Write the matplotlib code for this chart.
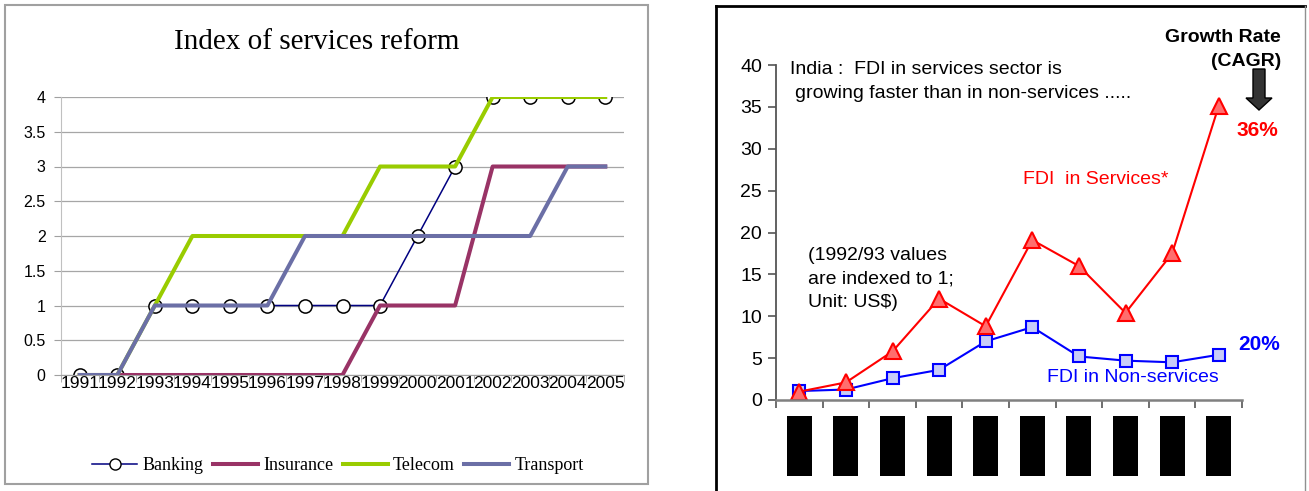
import matplotlib

matplotlib.use("Agg")

import matplotlib.pyplot as plt
from matplotlib.lines import Line2D
from matplotlib.patches import Rectangle, FancyArrow
from matplotlib.transforms import IdentityTransform

W, H = 1309, 491

# left chart: index of services reform
years = ["1991", "1992", "1993", "1994", "1995", "1996", "1997", "1998",
         "1999", "2000", "2001", "2002", "2003", "2004", "2005"]
banking = [0, 0, 1, 1, 1, 1, 1, 1, 1, 2, 3, 4, 4, 4, 4]
insurance = [0, 0, 0, 0, 0, 0, 0, 0, 1, 1, 1, 3, 3, 3, 3]
telecom = [0, 0, 1, 2, 2, 2, 2, 2, 3, 3, 3, 4, 4, 4, 4]
transport = [0, 0, 1, 1, 1, 1, 2, 2, 2, 2, 2, 2, 2, 3, 3]
reform_yticks = [0, 0.5, 1, 1.5, 2, 2.5, 3, 3.5, 4]

# right chart: FDI indexed to 1992/93
fdi_services = [1.0, 2.1, 5.8, 12.1, 8.8, 19.1, 16.0, 10.4, 17.5, 35.1]
fdi_non_services = [1.07, 1.25, 2.6, 3.6, 7.0, 8.7, 5.2, 4.7, 4.5, 5.4]
fdi_yticks = [0, 5, 10, 15, 20, 25, 30, 35, 40]
hidden_label_blocks = [1, 1, 1, 1, 1, 1, 1, 1, 1, 1]


def fx(x):
    return x / W


def fy(y):
    return 1 - y / H


fig = plt.figure(figsize=(W / 100, H / 100), dpi=100)
fig.patch.set_facecolor("white")

# ---- left panel ----
fig.patches.append(Rectangle((fx(5), fy(484)), fx(643), 479 / H, transform=fig.transFigure,
                             fill=False, edgecolor="#A0A0A0", linewidth=1.5))

ax1 = fig.add_axes([fx(61), fy(375), fx(563), 278 / H])
x1 = list(range(len(years)))
ax1.plot(x1, banking, color="#000080", linewidth=1.1, marker="o", markersize=9.5,
         markerfacecolor="white", markeredgecolor="black", markeredgewidth=1.1, zorder=2)
ax1.plot(x1, insurance, color="#993366", linewidth=2.9, zorder=3)
ax1.plot(x1, telecom, color="#99CC00", linewidth=2.9, zorder=4)
ax1.plot(x1, transport, color="#6B6FA6", linewidth=2.9, zorder=5)
ax1.set_xlim(-0.5, len(years) - 0.5)
ax1.set_ylim(0, 4)
ax1.set_yticks(reform_yticks)
ax1.set_yticklabels([f"{v:g}" for v in reform_yticks], fontsize=11.5, family="Liberation Sans")
ax1.set_xticks(x1)
ax1.set_xticklabels(years, fontsize=12.5, family="Liberation Sans")
ax1.set_xticks([i - 0.5 for i in range(len(years) + 1)], minor=True)
ax1.tick_params(axis="x", which="major", length=0, pad=1)
ax1.tick_params(axis="x", which="minor", length=5, color="#A0A0A0", direction="out")
ax1.tick_params(axis="y", length=5, color="#A0A0A0", pad=6)
ax1.grid(axis="y", color="#A6A6A6", linewidth=0.9)
ax1.set_axisbelow(True)
for side in ["top", "right"]:
    ax1.spines[side].set_visible(False)
ax1.spines["left"].set_color("#C0C0C0")
ax1.spines["bottom"].set_color("#A0A0A0")

fig.text(fx(317), fy(42), "Index of services reform", ha="center", va="center",
         fontsize=21, family="Liberation Serif")

handles = [
    Line2D([], [], color="#000080", linewidth=1.1, marker="o", markersize=8,
           markerfacecolor="white", markeredgecolor="black"),
    Line2D([], [], color="#993366", linewidth=2.9),
    Line2D([], [], color="#99CC00", linewidth=2.9),
    Line2D([], [], color="#6B6FA6", linewidth=2.9),
]
fig.legend(handles, ["Banking", "Insurance", "Telecom", "Transport"], loc="center",
           bbox_to_anchor=(fx(338), fy(466)), ncol=4, frameon=False, handlelength=2.5,
           columnspacing=0.5, handletextpad=0.3, prop={"family": "Liberation Serif", "size": 13})

# ---- right panel ----
fig.add_artist(Line2D([fx(716), fx(716)], [fy(6), 0], transform=fig.transFigure, color="black", linewidth=2))
fig.add_artist(Line2D([fx(716), fx(1305)], [fy(6), fy(6)], transform=fig.transFigure, color="black", linewidth=2))
fig.add_artist(Line2D([fx(1305), fx(1305)], [fy(6), 0], transform=fig.transFigure, color="#909090", linewidth=1))

ax2 = fig.add_axes([fx(776), fy(400), fx(466), 335 / H])
x2 = list(range(len(fdi_services)))
ax2.plot(x2, fdi_non_services, color="#0000FF", linewidth=1.5, marker="s", markersize=9,
         markerfacecolor="#C8CCF8", markeredgecolor="#0000FF", markeredgewidth=1.5)
ax2.plot(x2, fdi_services, color="#FF0000", linewidth=1.5, marker="^", markersize=11,
         markerfacecolor="#FF6E6E", markeredgecolor="#FF0000", markeredgewidth=1.5)
ax2.set_xlim(-0.5, len(x2) - 0.5)
ax2.set_ylim(0, 40)
ax2.set_yticks(fdi_yticks)
ax2.set_yticklabels([str(v) for v in fdi_yticks], fontsize=14, family="Liberation Sans")
ax2.set_xticks([])
ax2.set_xticks([i - 0.5 for i in range(len(x2) + 1)], minor=True)
ax2.tick_params(axis="x", which="minor", length=6, width=1.2, color="#555555", direction="out")
ax2.tick_params(axis="y", length=6, width=1.2, color="#555555", pad=4)
for side in ["top", "right"]:
    ax2.spines[side].set_visible(False)
ax2.spines["left"].set_color("#555555")
ax2.spines["left"].set_linewidth(1.3)
ax2.spines["bottom"].set_color("#808080")
ax2.spines["bottom"].set_linewidth(1.8)

ax3 = fig.add_axes([fx(776), fy(476), fx(466), 60 / H])
ax3.bar(x2, hidden_label_blocks, width=0.54, color="black")
ax3.set_xlim(-0.5, len(x2) - 0.5)
ax3.set_ylim(0, 1)
ax3.axis("off")

fig.text(fx(790), fy(70), "India :  FDI in services sector is", ha="left", va="center",
         fontsize=14, family="Liberation Sans")
fig.text(fx(795), fy(93), "growing faster than in non-services .....", ha="left", va="center",
         fontsize=14, family="Liberation Sans")
fig.text(fx(808), fy(279), "(1992/93 values\nare indexed to 1;\nUnit: US$)", ha="left", va="center",
         fontsize=14, family="Liberation Sans", linespacing=1.5)
fig.text(fx(1023), fy(179), "FDI  in Services*", ha="left", va="center",
         fontsize=14, family="Liberation Sans", color="#FF0000")
fig.text(fx(1047), fy(377), "FDI in Non-services", ha="left", va="center",
         fontsize=14, family="Liberation Sans", color="#0000FF")
fig.text(fx(1281), fy(37), "Growth Rate", ha="right", va="center",
         fontsize=14, family="Liberation Sans", fontweight="bold")
fig.text(fx(1281), fy(62), "(CAGR)", ha="right", va="center",
         fontsize=14, family="Liberation Sans", fontweight="bold")
fig.text(fx(1257), fy(131), "36%", ha="center", va="center",
         fontsize=15, family="Liberation Sans", fontweight="bold", color="#FF0000")
fig.text(fx(1259), fy(344), "20%", ha="center", va="center",
         fontsize=15, family="Liberation Sans", fontweight="bold", color="#0000FF")

# dark down arrow under the CAGR heading, in pixel coordinates
fig.patches.append(FancyArrow(1259, H - 69, 0, -41, width=12, head_width=26, head_length=12,
                              length_includes_head=True, transform=IdentityTransform(),
                              facecolor="#333333", edgecolor="black", linewidth=1))

fig.savefig("out.png", dpi=100)
